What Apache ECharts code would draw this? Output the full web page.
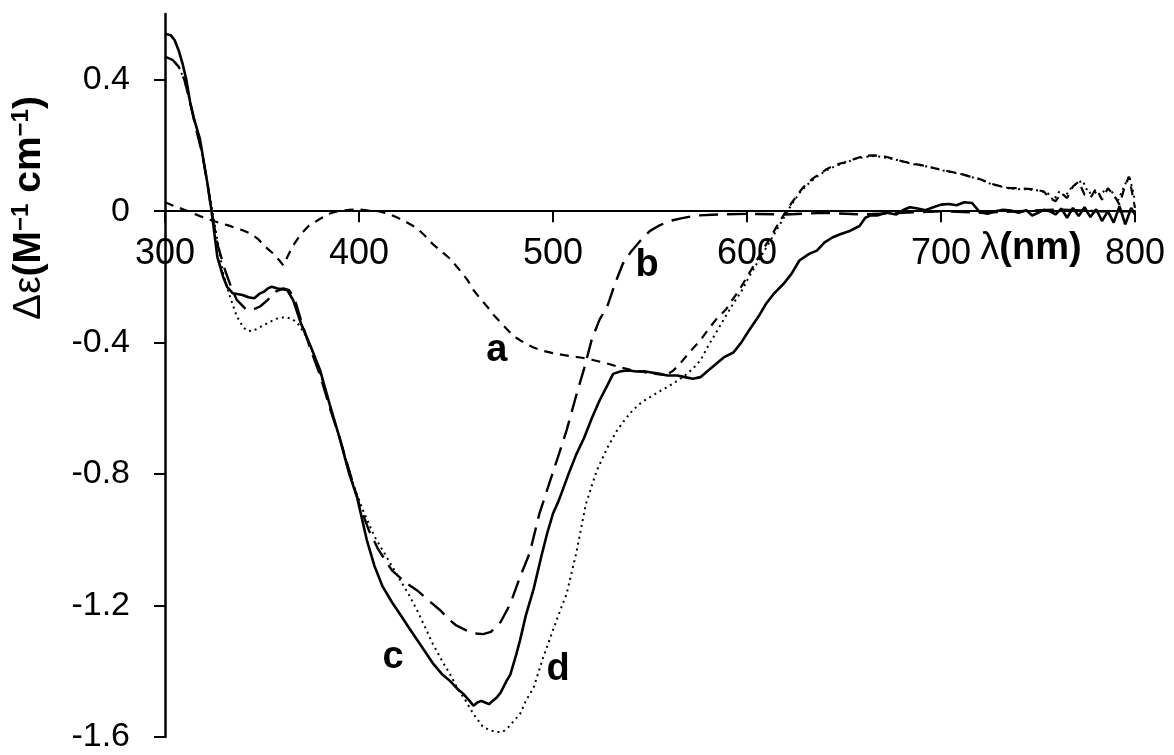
<!DOCTYPE html>
<html>
<head>
<meta charset="utf-8">
<script src="https://cdn.jsdelivr.net/npm/echarts@6/dist/echarts.min.js"></script>
<style>
  html, body { margin: 0; padding: 0; background: #fff; }
  #chart { width: 1174px; height: 755px; }
</style>
</head>
<body>
<div id="chart"></div>
<script>
// ---------- data (wavelength in nm, Δε in M^-1 cm^-1) ----------
const xTicks = [300, 400, 500, 600, 700, 800];
const yTicks = [-1.6, -1.2, -0.8, -0.4, 0, 0.4];
const yMin = -1.6, yMax = 0.6;

// curve a (short dash)
const wlA = [300,305,311,318,325,333,340,344,348,352,356,359,361,363,366,370,374,380,385,389,395,400,405,410,415,420,425,430,434,438,443,447,452,456,459,463,466,470,474,478,481,485,490,495,500,505,510,515,520,527,534,540,547,553,558,562,566,571,576,580,584,589,593,596,601,605,608,613,618,623,626,629,634,638,641,645,650,655,660,665,670,675,680,685,690,695,700,705,710,715,720,725,730,735,740,745,750,753,756,759,762,765,768,771,774,777,780,783,786,789,792,795,797,799,800];
const deA = [0.027,0.015,0.002,-0.015,-0.03,-0.044,-0.058,-0.068,-0.085,-0.11,-0.13,-0.15,-0.165,-0.14,-0.105,-0.07,-0.045,-0.023,-0.007,0.0,0.004,0.005,0.002,0.0,-0.008,-0.02,-0.035,-0.052,-0.075,-0.1,-0.125,-0.145,-0.18,-0.21,-0.24,-0.27,-0.29,-0.32,-0.345,-0.37,-0.385,-0.4,-0.415,-0.425,-0.432,-0.437,-0.442,-0.446,-0.452,-0.462,-0.474,-0.483,-0.49,-0.495,-0.5,-0.485,-0.46,-0.425,-0.393,-0.36,-0.33,-0.3,-0.265,-0.24,-0.19,-0.15,-0.12,-0.07,-0.02,0.025,0.05,0.073,0.1,0.115,0.128,0.14,0.148,0.158,0.168,0.17,0.168,0.16,0.152,0.145,0.14,0.133,0.126,0.12,0.114,0.105,0.098,0.085,0.077,0.07,0.07,0.068,0.064,0.06,0.04,0.03,0.055,0.04,0.075,0.09,0.05,0.04,0.07,0.035,0.07,0.05,0.02,0.08,0.105,0.04,0.01];

// curve b (long dash)
const wlB = [300,304,307,310,313,316,319,322,324,327,331,334,337,342,345,349,353,357,361,364,367,370,375,380,385,390,395,400,405,410,417,424,430,436,442,446,450,455,460,464,468,473,478,483,488,493,498,503,507,512,516,520,524,528,532,536,540,545,550,555,560,566,574,585,600,620,640,660,680,700,720,740,760,780,800];
const deB = [0.47,0.46,0.44,0.40,0.33,0.25,0.18,0.08,0.0,-0.1,-0.18,-0.23,-0.27,-0.30,-0.30,-0.29,-0.27,-0.245,-0.235,-0.24,-0.27,-0.33,-0.42,-0.50,-0.6,-0.69,-0.79,-0.89,-0.97,-1.03,-1.093,-1.13,-1.154,-1.185,-1.215,-1.24,-1.26,-1.275,-1.285,-1.287,-1.28,-1.25,-1.195,-1.113,-1.04,-0.92,-0.83,-0.74,-0.667,-0.56,-0.48,-0.39,-0.33,-0.29,-0.22,-0.16,-0.125,-0.09,-0.06,-0.043,-0.03,-0.022,-0.013,-0.01,-0.008,-0.01,-0.005,-0.01,-0.005,0.0,-0.005,0.0,0.005,0.0,0.0];

// curve c (solid)
const wlC = [300,303,305,307,309,311,313,315,318,320,322,324,327,330,332,335,340,343,346,349,351,353,355,358,361,363,366,370,375,380,385,390,395,399,404,408,412,417,421,426,430,434,438,443,447,451,454,457,459,461,463,465,467,469,471,473,476,478,481,483,486,490,494,497,500,503,508,512,516,520,524,528,531,535,539,543,547,550,555,559,564,568,572,576,580,584,588,593,597,601,606,610,614,619,623,627,632,636,640,644,648,653,658,661,664,667,672,677,681,684,688,692,696,700,704,708,712,716,720,724,728,732,736,740,744,747,750,753,756,759,762,765,768,771,774,777,780,783,786,789,792,795,798,800];
const deC = [0.54,0.535,0.52,0.49,0.45,0.40,0.33,0.28,0.22,0.15,0.08,0.0,-0.14,-0.20,-0.23,-0.25,-0.255,-0.262,-0.265,-0.25,-0.245,-0.235,-0.23,-0.235,-0.238,-0.24,-0.27,-0.34,-0.41,-0.485,-0.59,-0.69,-0.8,-0.87,-1.0,-1.08,-1.14,-1.19,-1.225,-1.27,-1.305,-1.34,-1.375,-1.41,-1.43,-1.455,-1.47,-1.49,-1.505,-1.495,-1.49,-1.495,-1.5,-1.49,-1.48,-1.465,-1.43,-1.41,-1.35,-1.306,-1.23,-1.15,-1.05,-0.98,-0.92,-0.88,-0.8,-0.74,-0.69,-0.63,-0.576,-0.53,-0.495,-0.487,-0.485,-0.488,-0.487,-0.49,-0.495,-0.5,-0.5,-0.505,-0.51,-0.505,-0.485,-0.465,-0.445,-0.43,-0.4,-0.363,-0.32,-0.28,-0.25,-0.22,-0.19,-0.15,-0.13,-0.12,-0.095,-0.08,-0.07,-0.06,-0.045,-0.02,-0.012,-0.013,-0.005,-0.01,0.005,0.012,0.008,0.003,0.012,0.02,0.022,0.018,0.027,0.025,-0.003,-0.008,0.0,0.004,0.002,-0.005,0.003,-0.013,-0.005,0.004,0.0,-0.01,0.008,-0.02,0.01,-0.015,0.012,-0.018,0.006,-0.03,0.0,-0.035,0.015,-0.04,0.01,-0.01];

// curve d (dotted)
const wlD = [300,304,307,310,313,316,319,322,325,328,330,333.5,337,340,342,345,349,353,357.5,362,365,368,373,378,383,388,393,397,402,408,414,421,426,430,434,438,443,447,451,454,459,464,468,471,474,477,480,483,486,490,495,500,504,507,512,517,522.5,528,533,537,541,546,550,555,559,563,567,572,576,580,584,589,593,597,601,605,609,614,618,623,627,631,636,641,646,651,656,661,666,671,676,681,686,691,696,701,706,711,716,721,726,731,736,741,746,751,755,758,761,764,767,770,773,776,779,782,785,788,791,794,797,799,800];
const deD = [0.47,0.46,0.44,0.40,0.33,0.26,0.18,0.08,-0.02,-0.12,-0.19,-0.26,-0.32,-0.35,-0.363,-0.365,-0.353,-0.34,-0.327,-0.322,-0.327,-0.338,-0.383,-0.454,-0.55,-0.65,-0.75,-0.83,-0.91,-0.99,-1.05,-1.12,-1.17,-1.215,-1.265,-1.316,-1.37,-1.41,-1.455,-1.48,-1.53,-1.57,-1.58,-1.585,-1.585,-1.57,-1.55,-1.53,-1.49,-1.45,-1.357,-1.275,-1.21,-1.165,-1.04,-0.89,-0.79,-0.72,-0.667,-0.635,-0.606,-0.58,-0.566,-0.548,-0.535,-0.52,-0.505,-0.48,-0.454,-0.41,-0.37,-0.32,-0.28,-0.245,-0.2,-0.16,-0.12,-0.07,-0.03,0.02,0.055,0.08,0.105,0.125,0.138,0.148,0.16,0.165,0.168,0.163,0.158,0.15,0.143,0.138,0.132,0.124,0.118,0.112,0.103,0.095,0.082,0.075,0.069,0.067,0.066,0.062,0.055,0.033,0.06,0.045,0.07,0.085,0.093,0.055,0.06,0.045,0.07,0.06,0.03,0.07,0.108,0.06,0.03];

// curve labels (position in data units)
const labelText = ['a', 'b', 'c', 'd'];
const labelWl = [471, 548.5, 417.5, 502.6];
const labelDe = [-0.424, -0.165, -1.358, -1.394];

// ---------- chart ----------
const FONT = '"Liberation Sans", Arial, Helvetica, sans-serif';
const pairs = (xs, ys) => xs.map((x, i) => [x, ys[i]]);

const W = 1174, H = 755;
const GRID = { left: 165, right: 39, top: 14, bottom: 18 };
const plotH = H - GRID.top - GRID.bottom;
// x axis is drawn where Δε = 0 (placed as a 'top' axis shifted down to the zero line)
const zeroOffset = -plotH * (yMax - 0) / (yMax - yMin);

const chart = echarts.init(document.getElementById('chart'), null, { renderer: 'canvas' });

function lineSeries(name, xs, ys, type, width) {
  return {
    name, type: 'line', data: pairs(xs, ys),
    showSymbol: false, symbol: 'none', smooth: false, animation: false,
    lineStyle: { color: '#000', width: width, type: type, cap: 'butt' },
    z: 3
  };
}

chart.setOption({
  animation: false,
  backgroundColor: '#fff',
  grid: Object.assign({ containLabel: false, outerBoundsMode: 'none' }, GRID),
  xAxis: {
    type: 'value', position: 'top', offset: zeroOffset,
    min: xTicks[0], max: xTicks[xTicks.length - 1], interval: 100,
    axisLine: { onZero: false, lineStyle: { color: '#000', width: 2 } },
    axisTick: { show: true, inside: true, length: 11, lineStyle: { color: '#000', width: 2 } },
    axisLabel: {
      show: true, inside: true, margin: 25, color: '#000', fontFamily: FONT, fontSize: 36,
      showMinLabel: true, showMaxLabel: true,
      formatter: v => String(v)
    },
    splitLine: { show: false }
  },
  yAxis: {
    type: 'value', min: yMin, max: yMax,
    axisLine: { show: true, onZero: false, lineStyle: { color: '#000', width: 2.5 } },
    axisTick: { show: true, length: 11, lineStyle: { color: '#000', width: 2 }, customValues: yTicks },
    axisLabel: {
      show: true, margin: 35, color: '#000', fontFamily: FONT, fontSize: 34,
      customValues: yTicks,
      formatter: v => (Math.abs(v) < 1e-9 ? '0' : String(+v.toFixed(1)))
    },
    splitLine: { show: false }
  },
  series: [
    lineSeries('a', wlA, deA, [9, 7], 2.2),
    lineSeries('b', wlB, deB, [19, 9], 2.4),
    lineSeries('c', wlC, deC, 'solid', 2.6),
    lineSeries('d', wlD, deD, [2, 4], 2),
    {
      name: 'labels', type: 'scatter', symbolSize: 0, silent: true, z: 5,
      itemStyle: { opacity: 1 },
      data: labelText.map((t, i) => [labelWl[i], labelDe[i], t]),
      label: {
        show: true, position: 'inside', color: '#000', opacity: 1, fontFamily: FONT,
        fontSize: 38, fontWeight: 'bold', formatter: p => p.value[2]
      }
    }
  ],
  graphic: [
    {
      type: 'text', x: 29, y: 208, rotation: Math.PI / 2,
      style: {
        text: '{n|Δε}{b|(M}{s|−1}{b| cm}{s|−1}{b|)}',
        align: 'center', verticalAlign: 'middle',
        rich: {
          n: { fontFamily: FONT, fontSize: 39, fill: '#000' },
          b: { fontFamily: FONT, fontSize: 39, fontWeight: 'bold', fill: '#000' },
          s: { fontFamily: FONT, fontSize: 24, fontWeight: 'bold', fill: '#000', verticalAlign: 'top' }
        }
      }
    },
    {
      type: 'text', x: 1031, y: 249,
      style: {
        text: '{n|λ}{b|(nm)}',
        align: 'center', verticalAlign: 'middle',
        rich: {
          n: { fontFamily: FONT, fontSize: 38, fill: '#000' },
          b: { fontFamily: FONT, fontSize: 38, fontWeight: 'bold', fill: '#000' }
        }
      }
    }
  ]
});
</script>
</body>
</html>
